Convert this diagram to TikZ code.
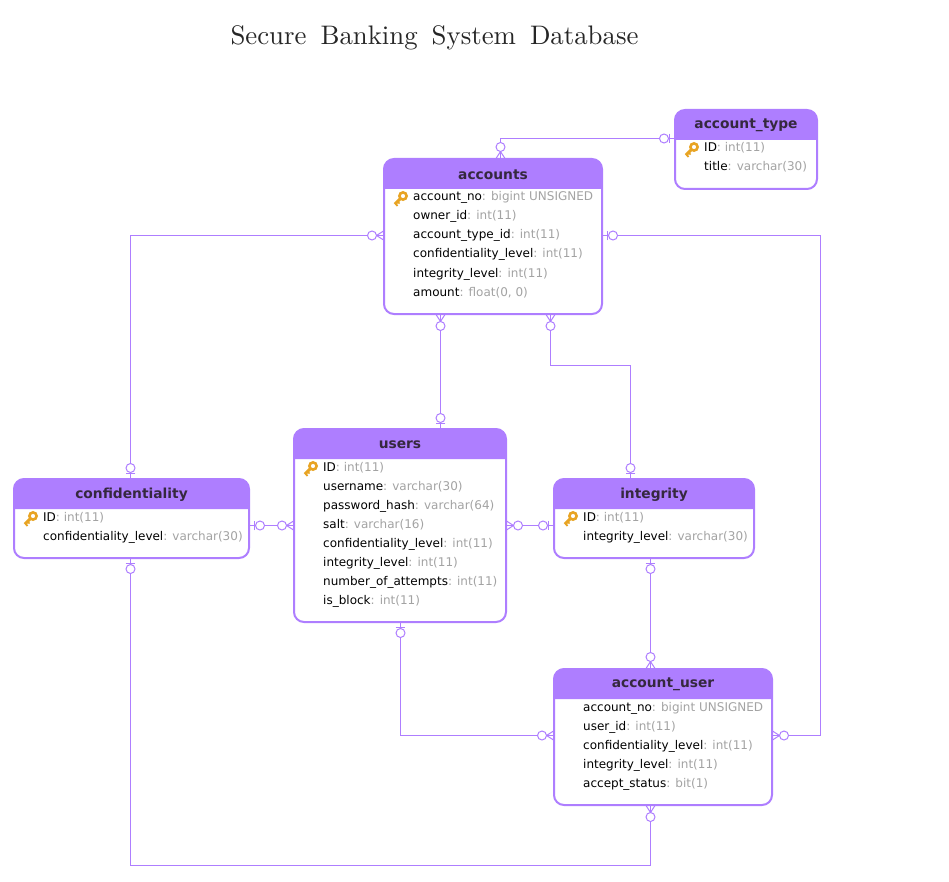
\documentclass[tikz,border=0pt]{standalone}
\usepackage{fontspec}
\setsansfont{DejaVu Sans}
\newfontfamily\titlefont{lmroman10-regular.otf}
\definecolor{erpurple}{HTML}{AE7EFF}
\definecolor{ertitle}{HTML}{35283F}
\definecolor{ertype}{HTML}{A3A3A3}
\definecolor{erkey}{HTML}{E8A423}
\pgfdeclarearrow{
  name=ZeroMany,
  setup code={\pgfarrowssettipend{0pt}\pgfarrowssetlineend{0pt}\pgfarrowssetvisualbackend{-16.5pt}\pgfarrowssetbackend{-16.5pt}},
  drawing code={
    \pgfsetdash{}{0pt}
    \pgfpathmoveto{\pgfqpoint{0pt}{4.8pt}}
    \pgfpathlineto{\pgfqpoint{-7.5pt}{0pt}}
    \pgfpathlineto{\pgfqpoint{0pt}{-4.8pt}}
    \pgfusepathqstroke
    \pgfsetfillcolor{white}
    \pgfpathcircle{\pgfqpoint{-12pt}{0pt}}{4.5pt}
    \pgfusepathqfillstroke
  }
}
\pgfdeclarearrow{
  name=ZeroOne,
  setup code={\pgfarrowssettipend{0pt}\pgfarrowssetlineend{0pt}\pgfarrowssetvisualbackend{-15.5pt}\pgfarrowssetbackend{-15.5pt}},
  drawing code={
    \pgfsetdash{}{0pt}
    \pgfpathmoveto{\pgfqpoint{-5.8pt}{4.8pt}}
    \pgfpathlineto{\pgfqpoint{-5.8pt}{-4.8pt}}
    \pgfusepathqstroke
    \pgfsetfillcolor{white}
    \pgfpathcircle{\pgfqpoint{-11pt}{0pt}}{4.5pt}
    \pgfusepathqfillstroke
  }
}
\tikzset{
  ertable/.style={draw=erpurple, line width=2pt, fill=white, rounded corners=10pt, inner sep=0pt, outer sep=0pt, anchor=north west},
  erhead/.style={fill=erpurple},
  ername/.style={text=ertitle, font=\sffamily\bfseries\fontsize{13.8}{16}\selectfont, inner sep=0pt},
  erfield/.style={text=black, font=\sffamily\fontsize{12}{14}\selectfont, inner sep=0pt, anchor=base west},
  erlink/.style={draw=erpurple, line width=1pt, rounded corners=0pt},
  dbkey/.pic={
    \draw[erkey, line width=2.6pt] (-10,-5) circle (3.6);
    \draw[erkey, line width=3pt] (-12.5,-2.5) -- (-18.2,3.2);
    \draw[erkey, line width=1.8pt] (-17.5,2.5) -- (-15.5,5);
    \draw[erkey, line width=1.6pt] (-15.5,0.5) -- (-13.5,2.5);
  }
}
% #1 name, #2 left, #3 top, #4 width, #5 height, #6 title, #7 rows
\newcommand{\ertable}[7]{
  \node[ertable, minimum width=#4pt, minimum height=#5pt] (#1) at (#2,#3) {};
  \fill[erhead] ([yshift=-30pt]#1.north west) [rounded corners=10pt] -- (#1.north west) -- (#1.north east) [sharp corners] -- ([yshift=-30pt]#1.north east) -- cycle;
  \node[ername] (#1-name) at ([yshift=-15.5pt]#1.north) {#6};
  \foreach \fname/\ftype [count=\cnt] in {#7}
    \node[erfield] (#1-\cnt) at ($(#1.north west)+(29,42+19*\cnt-19)$) {\fname\textcolor{ertype}{: \ftype}};
}
\usetikzlibrary{calc}
\begin{document}
\begin{tikzpicture}[x=1pt,y=-1pt]
\useasboundingbox (0,0) rectangle (949,882);
\node[text=black!85, font=\titlefont\fontsize{26.8}{30}\selectfont, anchor=base] (title) at (434.5,44.7) {Secure\hspace{0.19em} Banking\hspace{0.19em} System\hspace{0.19em} Database};

\ertable{accounts}{384}{159}{218}{155}{accounts}{account\_no/bigint UNSIGNED, owner\_id/int(11), account\_type\_id/int(11), confidentiality\_level/int(11), integrity\_level/int(11), amount/{float(0, 0)}}
\ertable{accounttype}{675}{110}{142}{79}{account\_type}{ID/int(11), title/varchar(30)}
\ertable{users}{294}{429}{212}{193}{users}{ID/int(11), username/varchar(30), password\_hash/varchar(64), salt/varchar(16), confidentiality\_level/int(11), integrity\_level/int(11), number\_of\_attempts/int(11), is\_block/int(11)}
\ertable{confidentiality}{14}{479}{235}{79}{confidentiality}{ID/int(11), confidentiality\_level/varchar(30)}
\ertable{integrity}{554}{479}{200}{79}{integrity}{ID/int(11), integrity\_level/varchar(30)}
\ertable{accountuser}{554}{669}{218}{136}{account\_user}{account\_no/bigint UNSIGNED, user\_id/int(11), confidentiality\_level/int(11), integrity\_level/int(11), accept\_status/bit(1)}

\foreach \tbl in {accounts,accounttype,users,confidentiality,integrity}
  \pic at (\tbl-1.base west) {dbkey};

\coordinate (rightbus) at (820.5,500);
\coordinate (bottombus) at (400,865.5);
\coordinate (midbus) at (590,365.5);

\draw[erlink, ZeroMany-ZeroOne] ([xshift=116.5pt]accounts.north west) |- ([yshift=-28.5pt]accounttype.north west);
\draw[erlink, ZeroMany-ZeroOne] ([yshift=-76.5pt]accounts.north west) -| ([xshift=116.5pt]confidentiality.north west);
\draw[erlink, ZeroOne-ZeroMany] ([yshift=-76.5pt]accounts.north east) -| (rightbus) |- ([yshift=-66.5pt]accountuser.north east);
\draw[erlink, ZeroMany-ZeroOne] ([xshift=56.5pt]accounts.south west) -- ([xshift=146.5pt]users.north west);
\draw[erlink, ZeroMany-ZeroOne] ([xshift=166.5pt]accounts.south west) |- (midbus) -| ([xshift=76.5pt]integrity.north west);
\draw[erlink, ZeroOne-ZeroMany] ([yshift=-46.5pt]confidentiality.north east) -- ([yshift=-96.5pt]users.north west);
\draw[erlink, ZeroMany-ZeroOne] ([yshift=-96.5pt]users.north east) -- ([yshift=-46.5pt]integrity.north west);
\draw[erlink, ZeroOne-ZeroMany] ([xshift=96.5pt]integrity.south west) -- ([xshift=96.5pt]accountuser.north west);
\draw[erlink, ZeroOne-ZeroMany] ([xshift=106.5pt]users.south west) |- ([yshift=-66.5pt]accountuser.north west);
\draw[erlink, ZeroOne-ZeroMany] ([xshift=116.5pt]confidentiality.south west) |- (bottombus) -| ([xshift=96.5pt]accountuser.south west);
\end{tikzpicture}
\end{document}
